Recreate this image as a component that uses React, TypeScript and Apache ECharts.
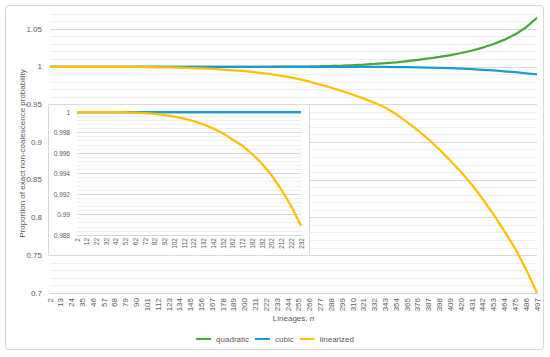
import { useEffect, useRef } from 'react';
import * as echarts from 'echarts';

const mainN = [2, 13, 24, 35, 46, 57, 68, 79, 90, 101, 112, 123, 134, 145, 156, 167, 178, 189, 200, 211, 222, 233, 244, 255, 266, 277, 288, 299, 310, 321, 332, 343, 354, 365, 376, 387, 398, 409, 420, 431, 442, 453, 464, 475, 486, 497];

const quadraticMain = [
  1, 1, 1, 1, 1, 1, 1, 1, 1, 1, 1, 1, 1, 1, 1, 1, 1, 1, 1, 1,
  1.0, 1.0001, 1.0002, 1.0003, 1.0005, 1.0008, 1.0012, 1.0017, 1.0023, 1.003,
  1.0039, 1.0049, 1.006, 1.0074, 1.0091, 1.011, 1.0131, 1.0155, 1.0183, 1.0216,
  1.0255, 1.0302, 1.036, 1.043, 1.0525, 1.065,
];

const cubicMain = [
  1, 1, 1, 1, 1, 1, 1, 1, 1, 1, 1, 1, 1, 1, 1, 1, 1, 1, 1, 1, 1, 1, 1, 1, 1, 1, 1, 1, 1,
  0.9999, 0.9999, 0.9998, 0.9997, 0.9995, 0.9993, 0.999, 0.9986, 0.9981, 0.9975,
  0.9968, 0.996, 0.9951, 0.994, 0.9928, 0.9914, 0.99,
];

const linearizedMain = [
  1, 1, 1, 1, 1,
  0.99997, 0.99993, 0.99985, 0.99972, 0.99955, 0.99935, 0.99908, 0.99873, 0.9983, 0.99775,
  0.9971, 0.9963, 0.9953, 0.9941, 0.99255, 0.9908, 0.9888, 0.9865, 0.9836, 0.9802,
  0.9764, 0.9722, 0.9677, 0.9629, 0.9578, 0.9522, 0.9458, 0.937, 0.9265, 0.9155,
  0.9035, 0.89, 0.8755, 0.8602, 0.8432, 0.8243, 0.8038, 0.7818, 0.7585, 0.731,
  0.7,
];

const insetN = [2, 12, 22, 32, 42, 52, 62, 72, 82, 92, 102, 112, 122, 132, 142, 152, 162, 172, 182, 192, 202, 212, 222, 232];

const quadraticInset = [1, 1, 1, 1, 1, 1, 1, 1, 1, 1, 1, 1, 1, 1, 1, 1, 1, 1, 1, 1, 1, 1, 1, 1];
const cubicInset = [1, 1, 1, 1, 1, 1, 1, 1, 1, 1, 1, 1, 1, 1, 1, 1, 1, 1, 1, 1, 1, 1, 1, 1];
const linearizedInset = [
  1, 1, 1, 1, 0.99999, 0.99997, 0.99994, 0.99989, 0.99981, 0.9997, 0.99955, 0.99936,
  0.9991, 0.99878, 0.99838, 0.9979, 0.9973, 0.9967, 0.9959, 0.99495, 0.9938, 0.9924,
  0.9908, 0.9889,
];

const yTitle = 'Proportion of exact non-coalescence probability';
const seriesNames = ['quadratic', 'cubic', 'linearized'];
const colors = ['#45A838', '#1C9AD6', '#FFC000'];

export default function App() {
  const ref = useRef<HTMLDivElement>(null);
  useEffect(() => {
    document.body.style.margin = '0';
    const chart = echarts.init(ref.current!, null, { renderer: 'svg' });
    const font = '"Liberation Sans", Arial, sans-serif';
    const labelColor = '#595959';
    const mainData = [quadraticMain, cubicMain, linearizedMain];
    const insetData = [quadraticInset, cubicInset, linearizedInset];
    const series: any[] = [];
    seriesNames.forEach((name, i) => {
      series.push({
        name,
        type: 'line',
        xAxisIndex: 0,
        yAxisIndex: 0,
        data: mainData[i],
        symbol: 'none',
        showSymbol: false,
        clip: false,
        z: 2,
        lineStyle: { width: 2.25, color: colors[i] },
        itemStyle: { color: colors[i] },
      });
    });
    seriesNames.forEach((name, i) => {
      series.push({
        name,
        type: 'line',
        xAxisIndex: 1,
        yAxisIndex: 2,
        data: insetData[i],
        symbol: 'none',
        showSymbol: false,
        clip: false,
        z: 4,
        lineStyle: { width: 2.25, color: colors[i] },
        itemStyle: { color: colors[i] },
      });
    });
    const majorColors = ['#d9d9d9', '#d9d9d9', '#d9d9d9', '#d9d9d9', '#d9d9d9', '#d9d9d9', '#d9d9d9', '#d9d9d9', '#efefef'];
    chart.setOption({
      animation: false,
      backgroundColor: '#ffffff',
      textStyle: { fontFamily: font },
      grid: [
        { left: 50, right: 13, top: 14, bottom: 64 },
        { left: 77, right: 249, top: 112, bottom: 122 },
      ],
      legend: {
        data: seriesNames.map((n) => ({ name: n, icon: 'rect' })),
        top: 330,
        left: 'center',
        itemWidth: 15,
        itemHeight: 2,
        itemGap: 6,
        textStyle: { fontSize: 8, color: labelColor, fontFamily: font },
      },
      xAxis: [
        {
          type: 'category',
          gridIndex: 0,
          data: mainN.map(String),
          boundaryGap: false,
          axisLine: { lineStyle: { color: '#d9d9d9' } },
          axisTick: { show: false },
          axisLabel: { interval: 0, rotate: 90, fontSize: 8, color: labelColor, margin: 5, fontFamily: font },
          splitLine: { show: false },
          name: '{a|Lineages, }{b|n}',
          nameLocation: 'middle',
          nameGap: 21,
          nameMoveOverlap: false,
          nameTextStyle: {
            fontSize: 8,
            color: labelColor,
            rich: {
              a: { fontSize: 8, color: labelColor, fontFamily: font },
              b: { fontSize: 8, color: labelColor, fontFamily: font, fontStyle: 'italic' },
            },
          },
        },
        {
          type: 'category',
          gridIndex: 1,
          data: insetN.map(String),
          boundaryGap: false,
          z: 3,
          axisLine: { lineStyle: { color: '#d9d9d9' } },
          axisTick: { show: false },
          axisLabel: { interval: 0, rotate: 90, fontSize: 6.5, color: labelColor, margin: 3, fontFamily: font },
          splitLine: { show: false },
        },
      ],
      yAxis: [
        {
          type: 'value',
          gridIndex: 0,
          min: 0.7,
          max: 1.07,
          interval: 0.05,
          z: 1,
          axisLine: { show: false },
          axisTick: { show: false },
          axisLabel: { showMaxLabel: false, fontSize: 8, color: labelColor, margin: 8, fontFamily: font },
          splitLine: { lineStyle: { color: majorColors } },
          name: yTitle,
          nameLocation: 'middle',
          nameGap: 24,
          nameMoveOverlap: false,
          nameTextStyle: { fontSize: 8, color: labelColor, fontFamily: font },
        },
        {
          type: 'value',
          gridIndex: 0,
          min: 0.7,
          max: 1.07,
          interval: 0.01,
          z: 0,
          position: 'left',
          axisLine: { show: false },
          axisTick: { show: false },
          axisLabel: { show: false },
          splitLine: { lineStyle: { color: '#efefef' } },
        },
        {
          type: 'value',
          gridIndex: 1,
          min: 0.988,
          max: 1,
          interval: 0.002,
          z: 3,
          axisLine: { show: false },
          axisTick: { show: false },
          axisLabel: { fontSize: 6.5, color: labelColor, margin: 7, fontFamily: font },
          splitLine: { lineStyle: { color: '#d9d9d9' } },
          minorTick: { show: false, splitNumber: 5 },
          minorSplitLine: { show: true, lineStyle: { color: '#efefef' } },
        },
      ],
      graphic: {
        elements: [
          {
            type: 'rect',
            z: 2,
            shape: { x: 48.5, y: 104.5, width: 261, height: 151 },
            style: { fill: '#ffffff', stroke: '#d9d9d9', lineWidth: 1 },
          },
          {
            type: 'rect',
            z: 10,
            shape: { x: 5.5, y: 5.5, width: 538, height: 344, r: 3 },
            style: { fill: 'none', stroke: '#d9d9d9', lineWidth: 1 },
          },
        ],
      },
      series,
    });
    return () => chart.dispose();
  }, []);
  return <div ref={ref} style={{ position: 'fixed', left: 0, top: 0, width: 550, height: 357 }} />;
}
